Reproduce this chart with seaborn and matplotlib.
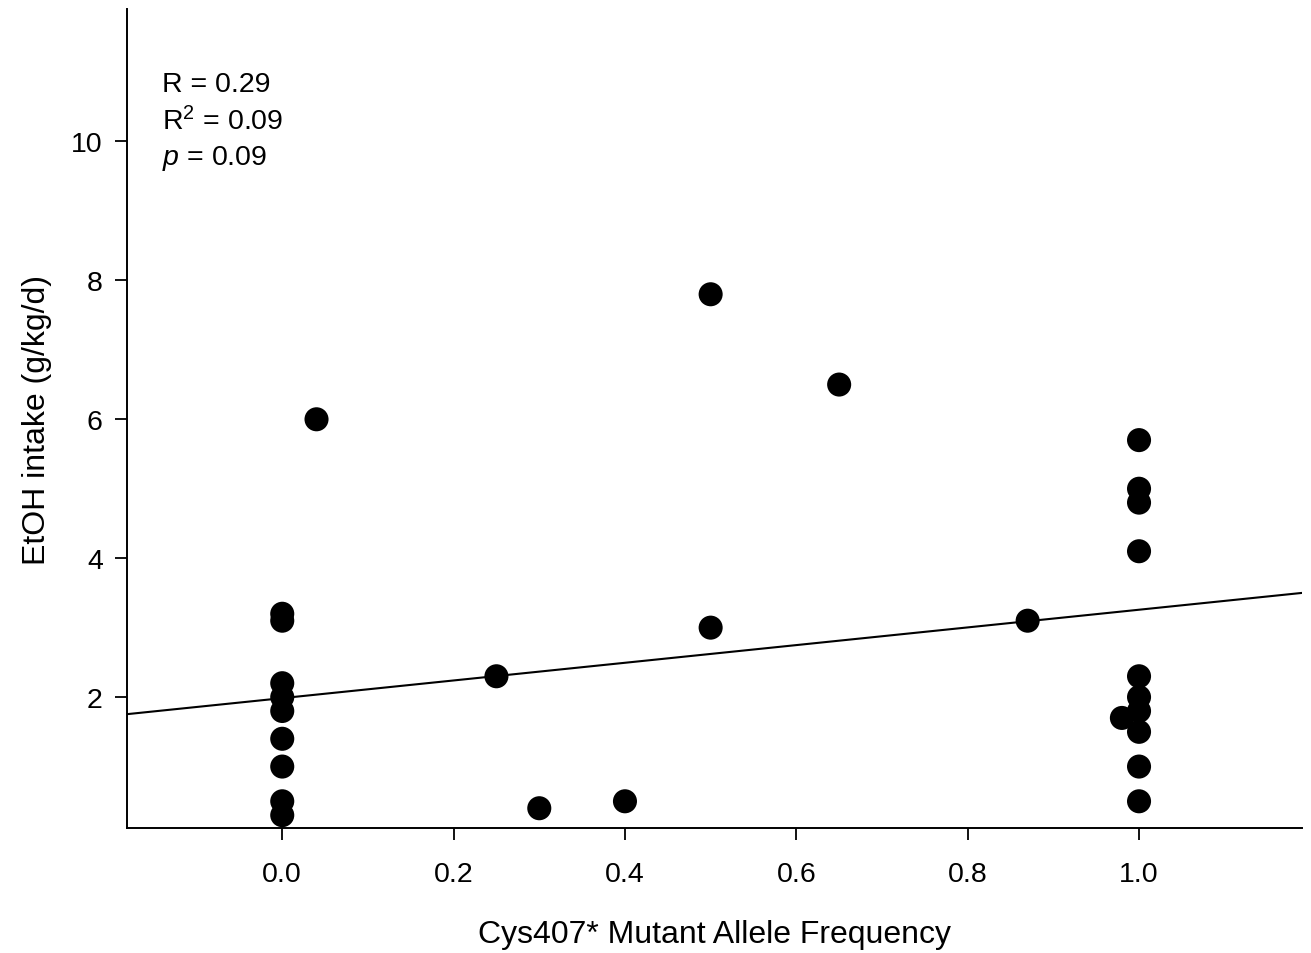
import matplotlib
matplotlib.use("Agg")
import matplotlib.pyplot as plt
import seaborn as sns
import numpy as np
import pandas as pd

allele_freq = [0.0, 0.0, 0.0, 0.0, 0.0, 0.0, 0.0, 0.0, 0.0,
               0.04, 0.25, 0.30, 0.40, 0.50, 0.50, 0.65, 0.87, 0.98,
               1.0, 1.0, 1.0, 1.0, 1.0, 1.0, 1.0, 1.0, 1.0, 1.0]
etoh_intake = [3.2, 3.1, 2.2, 2.0, 1.8, 1.4, 1.0, 0.5, 0.3,
               6.0, 2.3, 0.4, 0.5, 7.8, 3.0, 6.5, 3.1, 1.7,
               5.7, 5.0, 4.8, 4.1, 2.3, 2.0, 1.8, 1.5, 1.0, 0.5]
fit_intercept = 1.985
fit_slope = 1.273
x_ticks = [0.0, 0.2, 0.4, 0.6, 0.8, 1.0]
x_tick_labels = ["0.0", "0.2", "0.4", "0.6", "0.8", "1.0"]
y_ticks = [2, 4, 6, 8, 10]
stats_lines = ["R = 0.29", r"R$^2$ = 0.09", r"$\it{p}$ = 0.09"]

df = pd.DataFrame({"freq": allele_freq, "etoh": etoh_intake})

sns.set_style("ticks")
plt.rcParams["font.family"] = ["Liberation Sans", "DejaVu Sans"]
plt.rcParams["mathtext.fontset"] = "custom"
plt.rcParams["mathtext.rm"] = "Liberation Sans"
plt.rcParams["mathtext.it"] = "Liberation Sans:italic"
plt.rcParams["text.color"] = "black"
plt.rcParams["axes.labelcolor"] = "black"
plt.rcParams["xtick.color"] = "black"
plt.rcParams["ytick.color"] = "black"
plt.rcParams["axes.edgecolor"] = "black"

fig = plt.figure(figsize=(13.11, 9.54), dpi=100)
ax = fig.add_axes([0.097, 0.131, 0.896, 0.858])
xlim = (-0.181, 1.19)
ax.set_xlim(*xlim)
ax.set_ylim(0.115, 11.9)

line_x = np.array(xlim)
line_df = pd.DataFrame({"freq": line_x, "etoh": fit_intercept + fit_slope * line_x})
sns.lineplot(data=line_df, x="freq", y="etoh", ax=ax, color="black", lw=1.5)
sns.scatterplot(data=df, x="freq", y="etoh", ax=ax, color="black", s=300,
                edgecolor="none", zorder=3)

ax.set_xticks(x_ticks)
ax.set_xticklabels(x_tick_labels)
ax.set_yticks(y_ticks)
ax.tick_params(axis="both", direction="out", length=8.5, width=1.3, labelsize=20.5)
ax.tick_params(axis="x", pad=15)
ax.tick_params(axis="y", pad=9)
for s in ["top", "right"]:
    ax.spines[s].set_visible(False)
for s in ["left", "bottom"]:
    ax.spines[s].set_linewidth(1.4)
ax.set_xlabel("Cys407* Mutant Allele Frequency", fontsize=23, labelpad=23)
ax.set_ylabel("EtOH intake (g/kg/d)", fontsize=23, labelpad=14)

for i, t in enumerate(stats_lines):
    ax.text(0.03, 0.909 - i * 0.0452, t, transform=ax.transAxes, fontsize=20.5,
            va="center", ha="left")

fig.savefig("out.png", dpi=100)
